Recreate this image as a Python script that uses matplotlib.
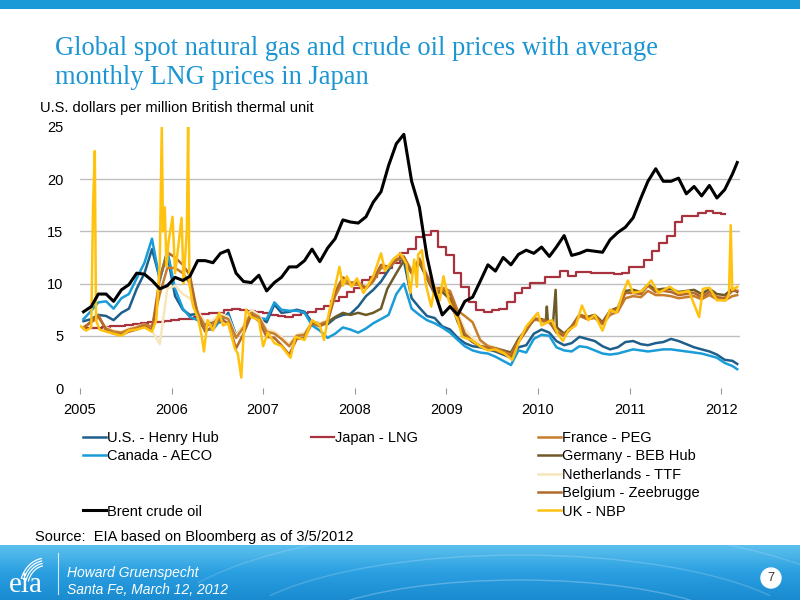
import numpy as np
import pandas as pd
import matplotlib
matplotlib.use("Agg")
import matplotlib.pyplot as plt
from matplotlib.lines import Line2D
from matplotlib.patches import Arc, Circle, Rectangle

plt.rcParams['font.family'] = ['Liberation Sans', 'DejaVu Sans']

# monthly dates (mid month) Jan 2005 .. Feb 2012, plus last day in the data
months = list(pd.date_range('2005-01-01', '2012-02-01', freq='MS') + pd.Timedelta(days=14))
months.append(pd.Timestamp('2012-03-05'))

henry_hub = [6.4, 6.6, 7.0, 6.9, 6.5, 7.2, 7.6, 9.5, 11.0, 13.3, 10.5, 12.8,
             8.8, 7.5, 7.0, 7.1, 6.2, 6.3, 6.3, 7.2, 5.0, 5.9, 7.4, 6.8,
             6.3, 8.0, 7.2, 7.3, 7.5, 7.3, 6.3, 6.2, 6.1, 6.7, 7.0, 7.1,
             7.8, 8.8, 9.4, 10.2, 11.3, 12.4, 12.2, 8.6, 7.7, 6.9, 6.7, 5.9,
             5.6, 4.8, 4.3, 4.0, 3.9, 3.7, 3.5, 3.2, 2.9, 3.9, 4.1, 5.2,
             5.6, 5.3, 4.5, 4.1, 4.3, 4.9, 4.7, 4.5, 4.0, 3.7, 3.9, 4.4,
             4.5, 4.2, 4.1, 4.3, 4.4, 4.7, 4.5, 4.2, 3.9, 3.7, 3.5, 3.2,
             2.7, 2.6, 2.3]

canada_aeco = [6.6, 7.4, 8.2, 8.3, 7.6, 8.6, 9.0, 10.5, 12.0, 14.3, 10.3, 13.2,
               9.5, 7.6, 6.8, 6.5, 5.6, 5.6, 6.5, 7.0, 5.1, 5.8, 7.2, 6.7,
               6.6, 8.2, 7.5, 7.4, 7.4, 7.2, 6.0, 5.5, 4.8, 5.2, 5.8, 5.6,
               5.3, 5.7, 6.2, 6.6, 7.0, 9.0, 10.0, 7.6, 7.0, 6.5, 6.2, 5.8,
               5.3, 4.6, 4.0, 3.6, 3.4, 3.3, 3.0, 2.6, 2.2, 3.6, 3.4, 4.7,
               5.1, 5.0, 3.9, 3.6, 3.5, 4.0, 3.9, 3.6, 3.3, 3.2, 3.3, 3.5,
               3.7, 3.6, 3.5, 3.6, 3.7, 3.7, 3.6, 3.5, 3.4, 3.3, 3.1, 2.9,
               2.4, 2.1, 1.8]

brent = [7.3, 7.8, 9.0, 9.0, 8.3, 9.4, 9.9, 11.0, 10.9, 10.3, 9.5, 9.8,
         10.6, 10.3, 10.7, 12.2, 12.2, 12.0, 12.9, 13.2, 11.0, 10.2, 10.1, 10.8,
         9.3, 10.1, 10.6, 11.6, 11.6, 12.2, 13.3, 12.1, 13.4, 14.3, 16.1, 15.9,
         15.8, 16.4, 17.8, 18.8, 21.3, 23.4, 24.3, 19.8, 17.3, 12.6, 9.2, 7.0,
         7.8, 7.0, 8.3, 8.7, 10.2, 11.8, 11.2, 12.5, 11.8, 12.8, 13.2, 12.9,
         13.5, 12.6, 13.5, 14.6, 12.7, 12.9, 13.2, 13.1, 13.0, 14.2, 14.9, 15.4,
         16.3, 18.2, 19.8, 21.0, 19.8, 19.8, 20.1, 18.6, 19.3, 18.4, 19.4, 18.2,
         19.0, 20.5, 21.6]

japan_lng = [5.7, 5.7, 5.75, 5.8, 5.9, 5.9, 6.0, 6.1, 6.2, 6.3, 6.3, 6.4,
             6.5, 6.6, 6.6, 6.8, 7.1, 7.2, 7.2, 7.5, 7.6, 7.5, 7.4, 7.3,
             7.2, 7.0, 6.9, 6.8, 7.0, 7.2, 7.3, 7.6, 7.9, 8.3, 8.7, 9.2,
             9.6, 10.3, 10.6, 11.0, 11.5, 12.0, 12.9, 13.3, 14.5, 14.7, 15.0, 13.5,
             12.7, 11.0, 9.7, 8.2, 7.5, 7.3, 7.5, 7.6, 8.2, 9.1, 9.6, 10.1,
             10.1, 10.6, 10.6, 11.2, 10.7, 11.1, 11.1, 11.0, 11.0, 11.0, 10.9, 11.0,
             11.6, 11.6, 12.3, 13.1, 13.9, 14.6, 15.9, 16.5, 16.5, 16.8, 17.0, 16.8,
             16.7]

france_peg = [5.8, 6.3, 6.8, 5.7, 5.4, 5.3, 5.6, 5.8, 6.1, 5.9, 9.0, 11.5,
              11.5, 11.0, 10.0, 7.2, 5.9, 6.2, 6.9, 6.6, 4.8, 5.8, 7.2, 6.8,
              5.4, 5.2, 4.7, 4.0, 5.0, 5.1, 6.3, 6.1, 6.4, 8.8, 10.2, 9.9,
              9.9, 9.5, 10.2, 11.5, 11.5, 12.2, 12.5, 11.2, 12.2, 10.8, 9.5, 9.6,
              9.3, 7.4, 6.9, 6.3, 4.6, 4.0, 3.8, 3.5, 3.2, 4.5, 5.5, 6.6,
              6.4, 6.3, 5.4, 5.1, 5.8, 6.9, 6.6, 6.7, 6.1, 7.0, 7.3, 8.6,
              8.8, 8.7, 9.3, 8.9, 8.9, 8.8, 8.6, 8.7, 8.8, 8.5, 8.9, 8.5,
              8.4, 8.8, 8.9]

netherlands_ttf = [5.9, 6.3, 6.7, 5.8, 5.5, 5.4, 5.7, 5.9, 6.1, 5.5, 4.2, 9.5,
                   9.8, 9.0, 8.6, 7.4, 6.3, 6.5, 7.1, 6.8, 5.0, 6.0, 7.5, 7.0,
                   5.6, 5.4, 4.9, 4.2, 5.1, 5.3, 6.3, 6.2, 6.5, 8.9, 10.3, 10.0,
                   10.0, 9.7, 10.4, 11.6, 11.7, 12.3, 12.6, 11.4, 12.4, 10.9, 9.6, 9.7,
                   9.2, 7.2, 5.6, 4.8, 4.3, 4.1, 3.9, 3.6, 3.4, 4.7, 5.7, 6.8,
                   6.6, 6.5, 5.5, 5.2, 6.0, 7.1, 6.8, 7.0, 6.4, 7.4, 7.7, 9.2,
                   9.3, 9.2, 9.9, 9.4, 9.5, 9.4, 9.1, 9.2, 9.3, 8.9, 9.4, 8.9,
                   8.8, 9.6, 9.5]

belgium_zee = [5.7, 6.4, 7.0, 5.5, 5.2, 5.1, 5.4, 5.6, 5.9, 5.6, 10.5, 13.0,
               12.5, 11.8, 10.8, 7.0, 5.4, 5.9, 6.6, 6.2, 3.8, 5.2, 7.0, 6.4,
               4.9, 4.8, 4.1, 3.2, 4.7, 4.8, 6.2, 5.9, 6.3, 9.2, 10.6, 10.1,
               10.1, 9.6, 10.4, 11.8, 11.6, 12.3, 12.6, 11.0, 12.4, 10.6, 9.2, 9.4,
               9.0, 6.9, 5.2, 4.5, 4.0, 3.8, 3.6, 3.3, 3.0, 4.4, 5.5, 6.7,
               6.5, 6.4, 5.3, 5.0, 5.8, 7.0, 6.7, 6.9, 6.2, 7.3, 7.6, 9.1,
               9.1, 9.0, 9.8, 9.2, 9.3, 9.2, 8.9, 9.0, 9.1, 8.7, 9.2, 8.7,
               8.6, 9.3, 9.3]

germany_dates = ['2007-09-15', '2007-10-15', '2007-11-15', '2007-12-15', '2008-01-15',
                 '2008-02-15', '2008-03-15', '2008-04-15', '2008-05-10', '2008-06-15',
                 '2008-07-15', '2008-08-15', '2008-09-15', '2008-10-15', '2008-11-15',
                 '2008-12-15', '2009-01-15', '2009-02-15', '2009-03-15', '2009-04-15',
                 '2009-05-15', '2009-06-15', '2009-07-15', '2009-08-15', '2009-09-15',
                 '2009-10-15', '2009-11-15', '2009-12-15', '2010-01-15', '2010-02-01',
                 '2010-02-05', '2010-02-09', '2010-03-01', '2010-03-12', '2010-03-17',
                 '2010-04-15', '2010-05-15', '2010-06-15', '2010-07-15', '2010-08-15',
                 '2010-09-15', '2010-10-15', '2010-11-15', '2010-12-15', '2011-01-15',
                 '2011-02-15', '2011-03-15', '2011-04-15', '2011-05-15', '2011-06-15',
                 '2011-07-15', '2011-08-15', '2011-09-15', '2011-10-15', '2011-11-15',
                 '2011-12-15', '2012-01-15', '2012-02-15', '2012-03-05']
germany_beb = [6.3, 6.8, 7.2, 7.0, 7.2,
               7.0, 7.2, 7.6, 9.5, 11.0,
               12.2, 11.0, 12.0, 10.5, 9.0,
               9.2, 8.5, 6.3, 5.0, 4.4,
               4.0, 3.9, 3.8, 3.6, 3.4,
               4.7, 5.6, 6.5, 6.6, 6.4,
               7.8, 6.4, 6.0, 9.4, 5.8,
               5.2, 5.9, 7.0, 6.8, 7.0,
               6.3, 7.4, 7.7, 9.3, 9.4,
               9.2, 9.9, 9.4, 9.5, 9.5,
               9.2, 9.3, 9.4, 9.0, 9.5,
               9.0, 8.9, 9.5, 9.2]

uk_dates = ['2005-01-05', '2005-01-25', '2005-02-15', '2005-02-22', '2005-03-01',
            '2005-03-06', '2005-03-20', '2005-04-15', '2005-05-15', '2005-06-15',
            '2005-07-15', '2005-08-15', '2005-09-15', '2005-10-15', '2005-11-01',
            '2005-11-15', '2005-11-23', '2005-11-28', '2005-12-05', '2005-12-12',
            '2005-12-20', '2006-01-05', '2006-01-15', '2006-01-25', '2006-02-10',
            '2006-02-18', '2006-03-03', '2006-03-08', '2006-03-13', '2006-03-28',
            '2006-04-15', '2006-05-01', '2006-05-10', '2006-05-25', '2006-06-15',
            '2006-07-10', '2006-07-25', '2006-08-15', '2006-09-10', '2006-09-22',
            '2006-10-06', '2006-10-15', '2006-10-25', '2006-11-15', '2006-12-15',
            '2007-01-01', '2007-01-20', '2007-02-15', '2007-03-15', '2007-04-20',
            '2007-05-10', '2007-06-15', '2007-07-15', '2007-08-15', '2007-09-01',
            '2007-09-20', '2007-10-15', '2007-11-01', '2007-11-15', '2007-12-01',
            '2007-12-20', '2008-01-10', '2008-02-05', '2008-03-15', '2008-04-15',
            '2008-05-01', '2008-06-01', '2008-07-01', '2008-07-25', '2008-08-10',
            '2008-08-25', '2008-09-05', '2008-09-10', '2008-09-25', '2008-10-10',
            '2008-11-01', '2008-11-15', '2008-12-05', '2008-12-20', '2009-01-10',
            '2009-02-15', '2009-03-05', '2009-04-10', '2009-05-15', '2009-06-15',
            '2009-07-15', '2009-08-20', '2009-09-20', '2009-10-20', '2009-11-15',
            '2009-12-31', '2010-01-15', '2010-02-25', '2010-03-20', '2010-04-10',
            '2010-05-01', '2010-06-01', '2010-06-25', '2010-07-20', '2010-08-15',
            '2010-09-15', '2010-10-15', '2010-11-10', '2010-12-05', '2010-12-25',
            '2011-01-15', '2011-02-20', '2011-03-28', '2011-04-25', '2011-06-10',
            '2011-07-15', '2011-08-25', '2011-10-05', '2011-10-20', '2011-11-15',
            '2011-12-15', '2012-01-20', '2012-02-01', '2012-02-08', '2012-02-14',
            '2012-03-05']
uk_nbp = [5.9, 5.5, 5.8, 17.5, 22.7,
          6.5, 5.6, 5.4, 5.2, 5.0,
          5.5, 5.6, 5.8, 5.4, 6.5,
          12.0, 25.0, 15.0, 17.3, 11.6,
          14.0, 16.4, 11.0, 13.0, 16.3,
          10.0, 15.2, 25.0, 10.0, 7.8,
          6.8, 5.0, 3.5, 6.5, 5.5,
          7.2, 6.0, 6.2, 3.8, 3.3,
          1.0, 5.0, 7.5, 6.8, 6.5,
          4.0, 5.3, 4.3, 4.0, 2.9,
          4.9, 4.6, 6.5, 6.0, 4.6,
          7.2, 9.7, 11.6, 9.8, 10.7,
          9.7, 10.5, 9.1, 10.7, 12.9,
          11.2, 12.3, 12.9, 11.9, 9.1,
          12.3, 9.7, 12.8, 13.2, 10.0,
          7.8, 9.7, 8.4, 10.7, 8.4,
          6.5, 4.9, 4.6, 4.0, 3.6,
          3.7, 3.3, 2.7, 4.6, 5.9,
          7.2, 6.0, 6.5, 5.2, 4.5,
          5.5, 6.0, 7.9, 6.5, 7.0,
          5.5, 7.5, 7.2, 9.1, 10.3,
          9.1, 9.3, 10.3, 9.1, 9.7,
          9.1, 9.3, 6.8, 9.5, 9.6,
          8.4, 8.4, 9.0, 15.6, 9.4,
          9.7]

year_labels = ['2005', '2006', '2007', '2008', '2009', '2010', '2011', '2012']

# ---------------------------------------------------------------
fig = plt.figure(figsize=(8, 6), dpi=100)

# slide decoration layer (pixel coordinates, y down)
deco = fig.add_axes([0, 0, 1, 1])
deco.set_xlim(0, 800)
deco.set_ylim(600, 0)
deco.axis('off')
deco.add_patch(Rectangle((0, 0), 800, 9, color='#1a9ad6', lw=0))
grad = np.linspace(0, 1, 60)[:, None] * np.ones((1, 200))
cmap = matplotlib.colors.LinearSegmentedColormap.from_list('band', ['#5cc0ee', '#2a9fe0', '#1a8bd0'])
deco.imshow(grad, extent=(0, 800, 600, 545), cmap=cmap, aspect='auto', zorder=1)
for r, a in [(60, 0.25), (110, 0.18), (170, 0.15)]:
    deco.add_patch(Arc((520, 640), 2.6 * r + 300, r + 60, theta1=190, theta2=350,
                       color='white', alpha=a, lw=1.0, zorder=2))
deco.plot([58, 58], [553, 594], color='white', lw=0.8, alpha=0.8, zorder=3)
deco.text(9, 592, 'eia', family='Liberation Serif', fontsize=21, color='white', zorder=3)
# swoosh over the logo (angles > 180 go up on screen since y is inverted)
for k in range(4):
    deco.add_patch(Arc((46, 588), 52 - 5 * k, 60 - 5 * k, theta1=200, theta2=262,
                       color='white', lw=0.9, zorder=3))
deco.text(67, 573, 'Howard Gruenspecht', fontsize=10, style='italic', color='white',
          va='center', zorder=3)
deco.text(67, 590, 'Santa Fe, March 12, 2012', fontsize=10, style='italic', color='white',
          va='center', zorder=3)
deco.add_patch(Circle((771, 578), 10, color='white', zorder=3))
deco.text(771, 578, '7', fontsize=9, color='#333333', ha='center', va='center', zorder=4)

fig.text(55 / 800, 1 - 36 / 600,
         'Global spot natural gas and crude oil prices with average\nmonthly LNG prices in Japan',
         family='Liberation Serif', fontsize=19.1, color='#1b95d3', va='top', linespacing=1.19)
fig.text(40 / 800, 1 - 108 / 600, 'U.S. dollars per million British thermal unit',
         fontsize=10.5, va='center')
fig.text(35 / 800, 1 - 537 / 600, 'Source:  EIA based on Bloomberg as of 3/5/2012',
         fontsize=10.5, va='center')

# ---------------------------------------------------------------
ax = fig.add_axes([80 / 800, 1 - 388 / 600, 660 / 800, 261 / 600])
ax.set_facecolor('none')

uk_t = pd.to_datetime(uk_dates)
de_t = pd.to_datetime(germany_dates)

h_jp, = ax.plot(months[:-2], japan_lng, color='#a8323e', lw=1.6, drawstyle='steps-mid', zorder=2)
h_hh, = ax.plot(months, henry_hub, color='#1d5f8a', lw=1.8, zorder=3)
h_ca, = ax.plot(months, canada_aeco, color='#1a9cd8', lw=1.8, zorder=3)
h_nl, = ax.plot(months, netherlands_ttf, color='#f7e6bc', lw=1.8, zorder=4)
h_de, = ax.plot(de_t, germany_beb, color='#6e5a26', lw=1.8, zorder=4)
h_fr, = ax.plot(months, france_peg, color='#c87d2c', lw=1.8, zorder=4)
h_be, = ax.plot(months, belgium_zee, color='#b3692a', lw=1.8, zorder=4)
h_uk, = ax.plot(uk_t, uk_nbp, color='#ffc20e', lw=1.8, zorder=5)
h_br, = ax.plot(months, brent, color='black', lw=2.2, zorder=6)

ax.set_ylim(0, 25)
ax.set_yticks([0, 5, 10, 15, 20, 25])
ax.set_xlim(pd.Timestamp('2005-01-01'), pd.Timestamp('2012-03-16'))
ax.set_xticks(pd.to_datetime([y + '-01-01' for y in year_labels]))
ax.set_xticklabels(year_labels)
for v in [5, 10, 15, 20]:
    ax.axhline(v, color='#bfbfbf', lw=1.0, zorder=1)
for s in ax.spines.values():
    s.set_visible(False)
ax.tick_params(axis='y', length=0, pad=12, labelsize=10.5)
ax.tick_params(axis='x', length=4, width=0.8, color='#999999', pad=7, labelsize=10.5)

# legend in three columns
blank = Line2D([], [], color='none')
leg_kw = dict(loc='upper left', frameon=False, fontsize=10.5, handlelength=1.55,
              handletextpad=0.1, borderpad=0, borderaxespad=0, labelspacing=0.3)
fig.legend([h_hh, h_ca, blank, blank, h_br],
           ['U.S. - Henry Hub', 'Canada - AECO', '', '', 'Brent crude oil'],
           bbox_to_anchor=(83 / 800, 1 - 431 / 600), **leg_kw)
fig.legend([h_jp], ['Japan - LNG'], bbox_to_anchor=(311 / 800, 1 - 431 / 600), **leg_kw)
fig.legend([h_fr, h_de, h_nl, h_be, h_uk],
           ['France - PEG', 'Germany - BEB Hub', 'Netherlands - TTF', 'Belgium - Zeebrugge', 'UK - NBP'],
           bbox_to_anchor=(538 / 800, 1 - 431 / 600), **leg_kw)

fig.savefig('out.png', dpi=100)
